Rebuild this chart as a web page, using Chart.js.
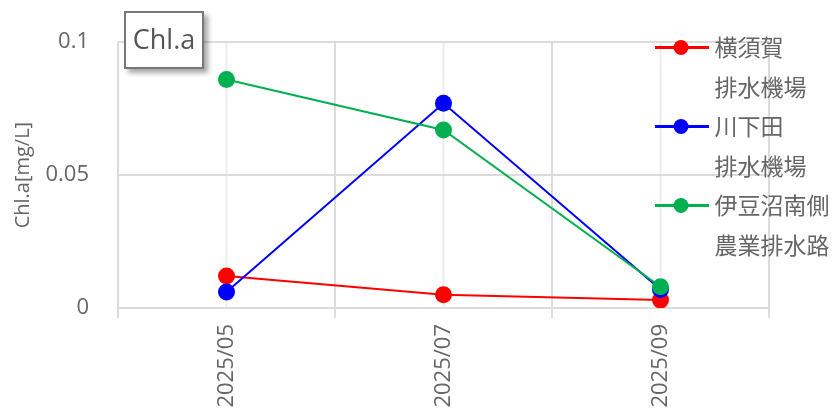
<!DOCTYPE html>
<html><head><meta charset="utf-8">
<script src="https://cdn.jsdelivr.net/npm/chart.js@4/dist/chart.umd.min.js"></script>
<style>
html,body{margin:0;padding:0;background:#fff;}
#wrap{position:relative;width:840px;height:415px;}
#c{position:absolute;left:0;top:0;}
#title{position:absolute;left:124px;top:11px;width:80px;height:58px;border:2px solid #777;background:#fff;box-shadow:4px 4px 5px rgba(0,0,0,0.35);font:27px 'Open Sans',sans-serif;color:#555;display:flex;align-items:center;justify-content:center;box-sizing:border-box;padding-bottom:3px;}
</style></head>
<body>
<div id="wrap"><canvas id="c" width="840" height="415"></canvas><div id="title">Chl.a</div></div>
<script>
const categories = ['2025/05', '2025/07', '2025/09'];
const seriesNames = [['横須賀', '排水機場'], ['川下田', '排水機場'], ['伊豆沼南側', '農業排水路']];
const yokosuka = [0.012, 0.005, 0.003];
const kawashimoda = [0.006, 0.077, 0.007];
const izunuma = [0.086, 0.067, 0.008];
const yTicks = [0, 0.05, 0.1];
const yTitle = 'Chl.a[mg/L]';
const colors = ['#ff0000', '#0000ff', '#00b050'];

const FONT = "'Open Sans', 'Noto Sans CJK JP', sans-serif";
const CJK = "'Noto Sans CJK JP', 'Open Sans', sans-serif";

function marker(color) {
  const c = document.createElement('canvas');
  c.width = 60; c.height = 19;
  const g = c.getContext('2d');
  g.fillStyle = color;
  g.fillRect(6, 8, 54, 3);
  g.beginPath(); g.arc(32, 9.5, 7.5, 0, Math.PI * 2); g.fill();
  return c;
}
const markers = colors.map(marker);

const pointLines = {
  id: 'pointLines',
  beforeDraw(chart) {
    const {ctx, chartArea, scales} = chart;
    ctx.save();
    ctx.strokeStyle = '#eeeeee';
    ctx.lineWidth = 2;
    categories.forEach((c, i) => {
      const x = scales.x.getPixelForValue(i);
      ctx.beginPath(); ctx.moveTo(x, chartArea.top); ctx.lineTo(x, chartArea.bottom - 1); ctx.stroke();
    });
    ctx.restore();
  }
};
const legendPos = {
  id: 'legendPos',
  afterLayout(chart) {
    const lg = chart.legend;
    lg.left = 655; lg.right = 840; lg.top = 36; lg.width = 185;
  }
};

const seriesData = [yokosuka, kawashimoda, izunuma];
new Chart(document.getElementById('c'), {
  type: 'line',
  data: {
    labels: categories,
    datasets: seriesData.map((d, i) => ({
      label: seriesNames[i],
      data: d,
      borderColor: colors[i],
      backgroundColor: colors[i],
      pointBackgroundColor: colors[i],
      pointBorderColor: colors[i],
      pointBorderWidth: 0,
      pointRadius: 8.5,
      borderWidth: 2,
      tension: 0,
      order: 3 - i
    }))
  },
  options: {
    responsive: false,
    animation: false,
    layout: {padding: {left: 0, right: 0, top: 42, bottom: 0}},
    plugins: {
      tooltip: {enabled: false},
      legend: {
        position: 'right',
        align: 'start',
        maxWidth: 71,
        labels: {
          usePointStyle: true,
          pointStyleWidth: 48,
          padding: 0,
          color: '#666',
          font: {family: CJK, size: 23, lineHeight: '39.5px'},
          generateLabels(chart) {
            return chart.data.datasets.map((ds, i) => ({
              text: seriesNames[i],
              fillStyle: colors[i],
              strokeStyle: colors[i],
              fontColor: '#666',
              lineWidth: 0,
              pointStyle: markers[i],
              hidden: false,
              datasetIndex: i
            }));
          }
        }
      }
    },
    scales: {
      x: {
        offset: true,
        grid: {offset: true, color: '#dcdcdc', lineWidth: 2, tickLength: 10, drawTicks: true},
        border: {display: false},
        ticks: {
          color: '#666', font: {family: FONT, size: 22},
          minRotation: 90, maxRotation: 90, padding: 6
        },
        afterFit(s) { s.height = 107; }
      },
      y: {
        min: 0, max: 0.1,
        afterBuildTicks(s) { s.ticks = yTicks.map(v => ({value: v})); },
        grid: {color: '#dcdcdc', lineWidth: 2, drawTicks: false},
        border: {display: false},
        ticks: {
          color: '#666', font: {family: FONT, size: 22}, padding: 29,
          callback: (v) => String(v)
        },
        title: {display: true, text: yTitle, color: '#666', font: {family: FONT, size: 20}, padding: {top: 11, bottom: 0}},
        afterFit(s) { s.width = 118; }
      }
    }
  },
  plugins: [pointLines, legendPos]
});
</script>
</body></html>
